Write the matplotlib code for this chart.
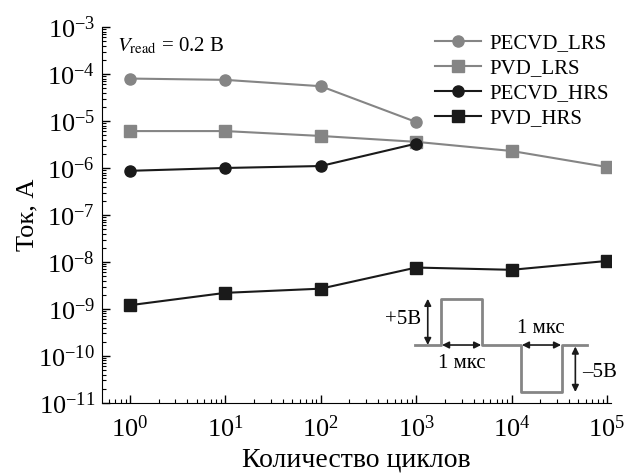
import numpy as np
import matplotlib
matplotlib.use("Agg")
import matplotlib.pyplot as plt

plt.rcParams['font.family'] = ['Liberation Serif', 'DejaVu Serif']
plt.rcParams['mathtext.fontset'] = 'stix'

cycles = [1, 10, 100, 1000, 10000, 100000]
pecvd_lrs = [8.0e-5, 7.5e-5, 5.5e-5, 9.5e-6]
pvd_lrs = [6.1e-6, 6.1e-6, 4.8e-6, 3.6e-6, 2.3e-6, 1.05e-6]
pecvd_hrs = [8.7e-7, 1.0e-6, 1.1e-6, 3.3e-6]
pvd_hrs = [1.2e-9, 2.2e-9, 2.7e-9, 7.6e-9, 6.8e-9, 1.05e-8]

gray = '#858585'
black = '#1a1a1a'

fig = plt.figure(figsize=(6.26, 4.74), dpi=100)
ax = fig.add_axes([0.163, 0.150, 0.813, 0.793])

ax.plot(cycles[:4], pecvd_lrs, '-o', color=gray, ms=8, lw=1.5, label='PECVD_LRS')
ax.plot(cycles, pvd_lrs, '-s', color=gray, ms=8, lw=1.5, label='PVD_LRS')
ax.plot(cycles[:4], pecvd_hrs, '-o', color=black, ms=8, lw=1.5, label='PECVD_HRS')
ax.plot(cycles, pvd_hrs, '-s', color=black, ms=8, lw=1.5, label='PVD_HRS')

ax.set_xscale('log')
ax.set_yscale('log')
ax.set_xlim(0.51, 1.1e5)
ax.set_ylim(1e-11, 1e-3)
ax.set_yticks([10.0**k for k in range(-11, -2)])
ax.set_xticks([10.0**k for k in range(0, 6)])
ax.spines['top'].set_visible(False)
ax.spines['right'].set_visible(False)
ax.tick_params(which='major', direction='in', length=6, width=1, labelsize=19)
ax.tick_params(axis='x', which='major', pad=9)
ax.tick_params(axis='y', which='major', pad=5)
ax.tick_params(which='minor', direction='in', length=3, width=0.8)
ax.yaxis.set_minor_locator(matplotlib.ticker.LogLocator(base=10, subs=np.arange(2, 10), numticks=20))
ax.xaxis.set_minor_locator(matplotlib.ticker.LogLocator(base=10, subs=np.arange(2, 10), numticks=20))
ax.yaxis.set_minor_formatter(matplotlib.ticker.NullFormatter())
ax.xaxis.set_minor_formatter(matplotlib.ticker.NullFormatter())

ax.set_xlabel('Количество циклов', fontsize=20, labelpad=4)
ax.set_ylabel('Ток, А', fontsize=19, labelpad=0)

ax.text(0.03, 0.95, r'$V_{\mathrm{read}}$ = 0.2 В', transform=ax.transAxes,
        fontsize=15, va='center', ha='left')

ax.legend(loc='upper right', frameon=False, fontsize=15, handlelength=2.2,
          handletextpad=0.4, borderaxespad=0.2, labelspacing=0.25,
          bbox_to_anchor=(1.02, 1.015))

# pulse inset (axes coordinates)
px = [0.615, 0.666, 0.666, 0.747, 0.747, 0.823, 0.823, 0.904, 0.904, 0.953]
py = [0.154, 0.154, 0.277, 0.277, 0.154, 0.154, 0.029, 0.029, 0.154, 0.154]
ax.plot(px, py, color=gray, lw=2, transform=ax.transAxes, clip_on=False)
arr = dict(arrowstyle='<|-|>', color=black, lw=1.2, mutation_scale=10, shrinkA=0, shrinkB=0)
ax.annotate('', xy=(0.640, 0.277), xytext=(0.640, 0.154), xycoords='axes fraction', arrowprops=arr)
ax.annotate('', xy=(0.668, 0.154), xytext=(0.745, 0.154), xycoords='axes fraction', arrowprops=arr)
ax.annotate('', xy=(0.825, 0.154), xytext=(0.902, 0.154), xycoords='axes fraction', arrowprops=arr)
ax.annotate('', xy=(0.930, 0.150), xytext=(0.930, 0.029), xycoords='axes fraction', arrowprops=arr)
ax.text(0.627, 0.222, '+5В', transform=ax.transAxes, fontsize=15, ha='right', va='center')
ax.text(0.706, 0.104, '1 мкс', transform=ax.transAxes, fontsize=15, ha='center', va='center')
ax.text(0.863, 0.198, '1 мкс', transform=ax.transAxes, fontsize=15, ha='center', va='center')
ax.text(0.943, 0.080, '–5В', transform=ax.transAxes, fontsize=15, ha='left', va='center')

fig.savefig('out.png', dpi=100)
